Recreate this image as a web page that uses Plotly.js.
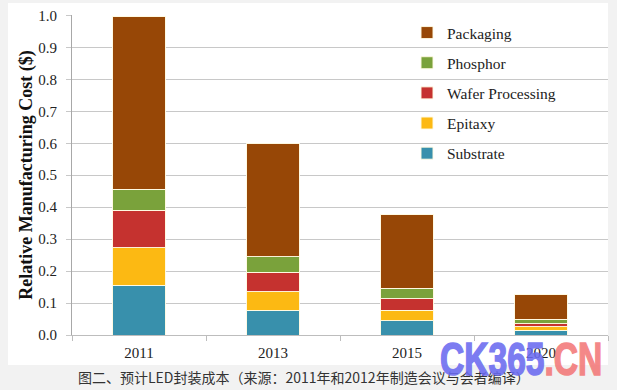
<!DOCTYPE html>
<html>
<head>
<meta charset="utf-8">
<script src="https://cdn.plot.ly/plotly-3.0.1.min.js"></script>
<style>
  html, body { margin: 0; padding: 0; background: #f2f2f2; }
  #wrap { position: relative; width: 617px; height: 390px; overflow: hidden; }
  #chart { position: absolute; left: 0; top: 0; width: 617px; height: 390px; }
  #wm { position: absolute; left: 440px; top: 336px; font-family: "Liberation Sans", Arial, sans-serif;
        font-weight: bold; font-size: 46px; line-height: 46px; white-space: nowrap;
        transform: scaleX(0.73); transform-origin: 0 0; opacity: 0.88; pointer-events: none;
        -webkit-text-stroke: 1.5px currentColor; }
  #wm .b { color: #6a6af0; }
  #wm .r { color: #f37878; }
</style>
</head>
<body>
<div id="wrap">
  <div id="chart"></div>
  <div id="wm"><span class="b">CK365</span><span class="r">.CN</span></div>
</div>
<script>
// Data
var years = ['2011', '2013', '2015', '2020'];
var substrate = [0.155, 0.078, 0.045, 0.015];
var epitaxy   = [0.118, 0.057, 0.032, 0.011];
var wafer     = [0.117, 0.061, 0.036, 0.010];
var phosphor  = [0.066, 0.049, 0.033, 0.014];
var packaging = [0.540, 0.354, 0.231, 0.076];

var seriesNames = ['Substrate', 'Epitaxy', 'Wafer Processing', 'Phosphor', 'Packaging'];
var seriesData = [substrate, epitaxy, wafer, phosphor, packaging];
var seriesColors = ['#3890ac', '#fcb913', '#c5322f', '#7aa23b', '#974706'];

var serif = '"Liberation Serif", "Times New Roman", "DejaVu Serif", serif';

var traces = seriesNames.map(function (name, i) {
  return {
    type: 'bar',
    name: name,
    x: years,
    y: seriesData[i],
    width: 0.39,
    legendgroup: 'g' + i,
    legendrank: seriesNames.length - i,
    marker: { color: seriesColors[i], line: { color: 'rgba(255,250,225,0.95)', width: 1 } },
    hoverinfo: 'x+y+name'
  };
});

// plot area in pixels: left 72, right 608, top 15, bottom 335
var L = 72, R = 608, T = 15, B = 335;
function px2x(p) { return (p - L) / (R - L); }
function py2y(p) { return (B - p) / (B - T); }

var layout = {
  width: 617, height: 390,
  margin: { l: L, r: 617 - R, t: T, b: 390 - B, pad: 0 },
  paper_bgcolor: '#f2f2f2',
  plot_bgcolor: 'rgba(0,0,0,0)',
  barmode: 'stack',
  bargap: 0.61,
  font: { family: serif, size: 15, color: '#222' },
  showlegend: true,
  legend: {
    x: px2x(407), y: py2y(16), xanchor: 'left', yanchor: 'top',
    traceorder: 'grouped', tracegroupgap: 7,
    bgcolor: 'rgba(0,0,0,0)', borderwidth: 0,
    font: { family: serif, size: 15.5, color: '#222' }
  },
  xaxis: {
    type: 'category',
    showgrid: false,
    showline: true, linecolor: '#bdbdbd', linewidth: 1,
    ticks: 'outside', tickson: 'boundaries', ticklen: 5, tickcolor: '#bdbdbd',
    ticklabelstandoff: 4,
    tickfont: { family: serif, size: 15, color: '#222' },
    zeroline: false
  },
  yaxis: {
    range: [0, 1.0015],
    dtick: 0.1, tick0: 0, tickformat: '.1f',
    showgrid: true, gridcolor: '#c8c8c8', gridwidth: 1,
    showline: true, linecolor: '#a8a8a8', linewidth: 1,
    ticks: 'outside', ticklen: 5, tickcolor: '#c8c8c8',
    ticklabelstandoff: 6,
    zeroline: false,
    tickfont: { family: serif, size: 15, color: '#222' },
    title: { text: 'Relative Manufacturing Cost ($)', standoff: 0,
             font: { family: serif, size: 18, color: '#111', weight: 'bold' } }
  },
  shapes: [{
    type: 'rect', xref: 'paper', yref: 'paper', layer: 'below',
    x0: px2x(8), x1: px2x(608), y0: py2y(365), y1: py2y(3),
    fillcolor: '#ffffff', line: { width: 0 }
  }],
  annotations: [{
    xref: 'paper', yref: 'paper', x: px2x(304), y: py2y(377),
    xanchor: 'center', yanchor: 'middle', showarrow: false,
    text: '图二、预计LED封装成本（来源：2011年和2012年制造会议与会者编译）',
    font: { family: 'Noto Sans CJK SC, sans-serif', size: 14, color: '#333' }
  }]
};

Plotly.newPlot('chart', traces, layout, { displayModeBar: false, staticPlot: true });
</script>
</body>
</html>
